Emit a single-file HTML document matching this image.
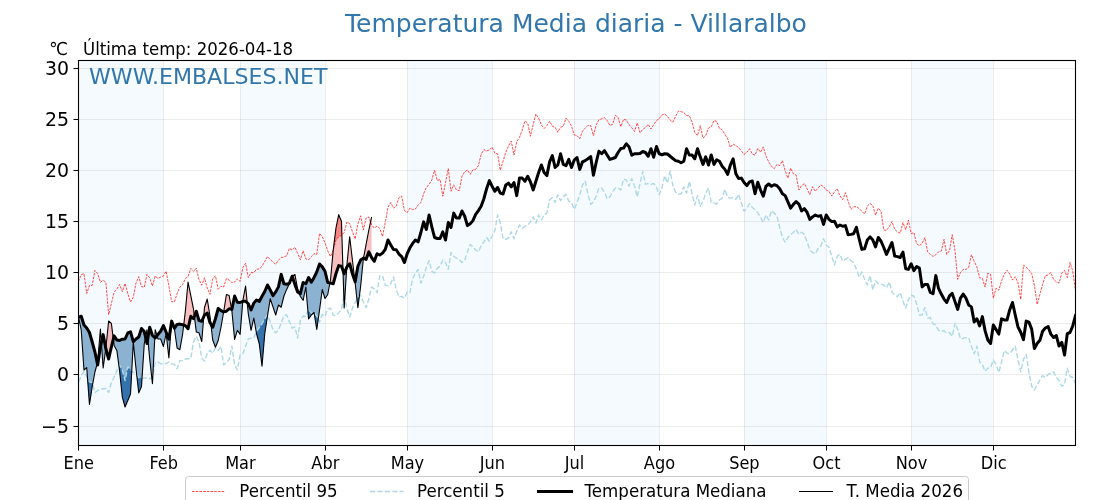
<!DOCTYPE html>
<html lang="es"><head><meta charset="utf-8"><title>Temperatura Media diaria - Villaralbo</title>
<style>
html,body{margin:0;padding:0;background:#fff;}
body{width:1120px;height:500px;overflow:hidden;}
svg{display:block;font-family:"DejaVu Sans","Liberation Sans",sans-serif;}
</style></head><body>
<svg width="1120" height="500" viewBox="0 0 1120 500">
<rect width="1120" height="500" fill="#fff"/>
<defs><clipPath id="ax"><rect x="78.50" y="60.50" width="997.00" height="385.00"/></clipPath></defs>

<g clip-path="url(#ax)">
<rect x="78.50" y="60.5" width="84.91" height="385.0" fill="#f5fafe"/>
<rect x="240.10" y="60.5" width="84.91" height="385.0" fill="#f5fafe"/>
<rect x="407.18" y="60.5" width="84.91" height="385.0" fill="#f5fafe"/>
<rect x="574.26" y="60.5" width="84.91" height="385.0" fill="#f5fafe"/>
<rect x="744.08" y="60.5" width="82.17" height="385.0" fill="#f5fafe"/>
<rect x="911.16" y="60.5" width="82.17" height="385.0" fill="#f5fafe"/>
<line x1="78.50" y1="60.5" x2="78.50" y2="445.5" stroke="#808080" stroke-opacity="0.14" stroke-width="1"/>
<line x1="163.50" y1="60.5" x2="163.50" y2="445.5" stroke="#808080" stroke-opacity="0.14" stroke-width="1"/>
<line x1="240.50" y1="60.5" x2="240.50" y2="445.5" stroke="#808080" stroke-opacity="0.14" stroke-width="1"/>
<line x1="325.50" y1="60.5" x2="325.50" y2="445.5" stroke="#808080" stroke-opacity="0.14" stroke-width="1"/>
<line x1="407.50" y1="60.5" x2="407.50" y2="445.5" stroke="#808080" stroke-opacity="0.14" stroke-width="1"/>
<line x1="492.50" y1="60.5" x2="492.50" y2="445.5" stroke="#808080" stroke-opacity="0.14" stroke-width="1"/>
<line x1="574.50" y1="60.5" x2="574.50" y2="445.5" stroke="#808080" stroke-opacity="0.14" stroke-width="1"/>
<line x1="659.50" y1="60.5" x2="659.50" y2="445.5" stroke="#808080" stroke-opacity="0.14" stroke-width="1"/>
<line x1="744.50" y1="60.5" x2="744.50" y2="445.5" stroke="#808080" stroke-opacity="0.14" stroke-width="1"/>
<line x1="826.50" y1="60.5" x2="826.50" y2="445.5" stroke="#808080" stroke-opacity="0.14" stroke-width="1"/>
<line x1="911.50" y1="60.5" x2="911.50" y2="445.5" stroke="#808080" stroke-opacity="0.14" stroke-width="1"/>
<line x1="993.50" y1="60.5" x2="993.50" y2="445.5" stroke="#808080" stroke-opacity="0.14" stroke-width="1"/>
<line x1="78.5" y1="426.50" x2="1075.5" y2="426.50" stroke="#808080" stroke-opacity="0.14" stroke-width="1"/>
<line x1="78.5" y1="374.50" x2="1075.5" y2="374.50" stroke="#808080" stroke-opacity="0.14" stroke-width="1"/>
<line x1="78.5" y1="323.50" x2="1075.5" y2="323.50" stroke="#808080" stroke-opacity="0.14" stroke-width="1"/>
<line x1="78.5" y1="272.50" x2="1075.5" y2="272.50" stroke="#808080" stroke-opacity="0.14" stroke-width="1"/>
<line x1="78.5" y1="221.50" x2="1075.5" y2="221.50" stroke="#808080" stroke-opacity="0.14" stroke-width="1"/>
<line x1="78.5" y1="170.50" x2="1075.5" y2="170.50" stroke="#808080" stroke-opacity="0.14" stroke-width="1"/>
<line x1="78.5" y1="119.50" x2="1075.5" y2="119.50" stroke="#808080" stroke-opacity="0.14" stroke-width="1"/>
<line x1="78.5" y1="68.50" x2="1075.5" y2="68.50" stroke="#808080" stroke-opacity="0.14" stroke-width="1"/>
<path d="M78.54,317.19 L81.24,330.00 L83.98,370.00 L86.72,367.70 L89.46,404.40 L92.20,386.60 L94.93,372.00 L97.32,363.30 L97.32,363.30 L94.93,352.00 L92.20,342.00 L89.46,332.50 L86.72,328.00 L83.98,325.00 L81.24,316.20 L78.54,317.19Z M101.37,342.66 L103.15,368.00 L105.81,348.58 L105.81,348.58 L103.15,334.60 L101.37,342.66Z M113.32,339.09 L114.11,345.40 L116.85,350.40 L119.59,371.00 L122.32,397.00 L125.06,407.00 L127.80,400.50 L130.54,394.00 L133.28,342.00 L136.02,368.75 L138.76,392.90 L141.50,386.60 L144.24,344.00 L145.54,337.20 L145.54,337.20 L144.24,331.50 L141.50,328.50 L138.76,337.00 L136.02,339.00 L133.28,341.60 L130.54,331.90 L127.80,333.00 L125.06,339.00 L122.32,339.20 L119.59,340.50 L116.85,340.00 L114.11,335.90 L113.32,339.09Z M147.80,338.57 L149.71,359.00 L152.45,383.75 L154.79,337.63 L154.79,337.63 L152.45,335.50 L149.71,327.20 L147.80,338.57Z M156.97,335.73 L157.93,339.00 L160.67,339.00 L163.41,346.50 L166.15,333.50 L168.89,358.00 L171.61,321.23 L171.61,321.23 L168.89,339.12 L166.15,332.25 L163.41,325.56 L160.67,331.25 L157.93,334.50 L156.97,335.73Z M172.69,323.90 L174.37,328.50 L177.10,348.00 L179.84,349.70 L182.58,334.50 L183.71,325.11 L183.71,325.11 L182.58,324.75 L179.84,324.10 L177.10,324.44 L174.37,328.31 L172.69,323.90Z M194.39,316.41 L196.28,331.90 L199.02,332.80 L201.76,341.50 L203.75,316.69 L203.75,316.69 L201.76,321.25 L199.02,320.62 L196.28,311.25 L194.39,316.41Z M210.90,324.10 L212.71,340.00 L215.45,347.30 L218.19,340.50 L220.93,327.50 L223.67,312.00 L223.69,311.88 L223.69,311.88 L223.67,311.88 L220.93,310.62 L218.19,308.50 L215.45,318.75 L212.71,327.25 L210.90,324.10Z M231.59,309.31 L231.88,311.00 L234.62,339.40 L237.36,330.30 L240.10,334.40 L242.79,301.27 L242.79,301.27 L240.10,302.50 L237.36,302.25 L234.62,296.00 L231.88,309.38 L231.59,309.31Z M247.22,302.75 L248.32,314.00 L251.06,330.30 L253.80,318.00 L256.54,333.75 L259.27,343.75 L262.01,366.25 L264.75,333.75 L267.49,316.00 L270.23,298.75 L272.97,306.90 L275.71,315.00 L278.45,305.00 L281.19,307.20 L283.93,296.00 L286.66,289.40 L289.40,283.75 L292.14,276.50 L292.21,276.45 L292.21,276.45 L292.14,276.25 L289.40,283.31 L286.66,284.25 L283.93,283.75 L281.19,274.38 L278.45,286.88 L275.71,291.88 L272.97,295.62 L270.23,290.00 L267.49,285.00 L264.75,291.50 L262.01,296.25 L259.27,301.50 L256.54,300.00 L253.80,303.12 L251.06,310.00 L248.32,303.75 L247.22,302.75Z M298.99,292.75 L300.36,296.50 L303.10,300.30 L305.84,287.00 L308.58,319.00 L311.32,315.00 L314.05,312.50 L316.79,329.50 L319.53,310.00 L322.27,289.50 L325.01,298.50 L327.75,294.50 L329.92,282.99 L329.92,282.99 L327.75,282.50 L325.01,271.25 L322.27,266.88 L319.53,264.00 L316.79,271.88 L314.05,277.50 L311.32,282.25 L308.58,277.50 L305.84,283.75 L303.10,282.50 L300.36,293.62 L298.99,292.75Z M343.00,270.51 L344.18,308.00 L346.78,267.24 L346.78,267.24 L344.18,273.75 L343.00,270.51Z M354.93,281.27 L355.14,283.00 L357.88,307.70 L360.62,286.50 L363.36,258.75 L363.47,258.17 L363.47,258.17 L363.36,258.12 L360.62,260.00 L357.88,266.25 L355.14,281.88 L354.93,281.27Z" fill="#4682b4" fill-opacity="0.6"/>
<path d="M78.50,317.00 L78.54,317.19 L78.54,317.19 L78.50,317.20Z M97.32,363.30 L97.67,362.00 L100.41,329.00 L101.37,342.66 L101.37,342.66 L100.41,347.00 L97.67,365.00 L97.32,363.30Z M105.81,348.58 L105.89,348.00 L108.63,321.00 L111.37,323.40 L113.32,339.09 L113.32,339.09 L111.37,347.00 L108.63,359.00 L105.89,349.00 L105.81,348.58Z M145.54,337.20 L146.98,329.70 L147.80,338.57 L147.80,338.57 L146.98,343.50 L145.54,337.20Z M154.79,337.63 L155.19,329.70 L156.97,335.73 L156.97,335.73 L155.19,338.00 L154.79,337.63Z M171.61,321.23 L171.63,321.00 L172.69,323.90 L172.69,323.90 L171.63,321.12 L171.61,321.23Z M183.71,325.11 L185.32,311.60 L188.06,282.00 L190.80,295.60 L193.54,309.40 L194.39,316.41 L194.39,316.41 L193.54,318.75 L190.80,316.25 L188.06,328.75 L185.32,325.62 L183.71,325.11Z M203.75,316.69 L204.49,307.50 L207.23,299.00 L209.97,316.00 L210.90,324.10 L210.90,324.10 L209.97,322.50 L207.23,313.12 L204.49,315.00 L203.75,316.69Z M223.69,311.88 L226.41,294.50 L229.15,295.50 L231.59,309.31 L231.59,309.31 L229.15,308.75 L226.41,311.25 L223.69,311.88Z M242.79,301.27 L242.84,300.60 L245.58,286.00 L247.22,302.75 L247.22,302.75 L245.58,301.25 L242.84,301.25 L242.79,301.27Z M292.21,276.45 L294.88,274.40 L297.62,289.00 L298.99,292.75 L298.99,292.75 L297.62,291.88 L294.88,284.38 L292.21,276.45Z M329.92,282.99 L330.49,280.00 L333.23,250.00 L335.97,228.00 L338.71,214.60 L341.45,221.25 L343.00,270.51 L343.00,270.51 L341.45,266.25 L338.71,265.62 L335.97,273.75 L333.23,283.75 L330.49,283.12 L329.92,282.99Z M346.78,267.24 L346.92,265.00 L349.66,236.80 L352.40,260.00 L354.93,281.27 L354.93,281.27 L352.40,273.75 L349.66,263.75 L346.92,266.88 L346.78,267.24Z M363.47,258.17 L366.10,244.40 L368.84,230.00 L371.57,217.00 L371.57,257.50 L368.84,251.88 L366.10,259.38 L363.47,258.17Z" fill="#f08080" fill-opacity="0.5"/>
<path d="M87.51,378.33 L89.46,404.40 L92.20,386.60 L92.65,384.17 L92.65,384.17 L92.20,382.50 L89.46,381.88 L87.51,378.33Z M118.96,366.29 L119.59,371.00 L122.32,397.00 L125.06,407.00 L127.80,400.50 L130.54,394.00 L131.76,370.77 L131.76,370.77 L130.54,369.38 L127.80,366.88 L125.06,380.62 L122.32,370.00 L119.59,365.00 L118.96,366.29Z M136.63,374.16 L138.76,392.90 L141.50,386.60 L142.04,378.12 L142.04,378.12 L141.50,378.12 L138.76,377.75 L136.63,374.16Z M151.82,377.98 L152.45,383.75 L152.88,375.39 L152.88,375.39 L152.45,377.75 L151.82,377.98Z M256.23,332.01 L256.54,333.75 L259.27,343.75 L262.01,366.25 L264.75,333.75 L267.49,316.00 L267.61,315.28 L267.61,315.28 L267.49,315.00 L264.75,318.75 L262.01,323.75 L259.27,327.50 L256.54,331.25 L256.23,332.01Z M307.88,310.80 L308.58,319.00 L311.32,315.00 L314.05,312.50 L316.79,329.50 L318.22,319.32 L318.22,319.32 L316.79,316.38 L314.05,312.00 L311.32,313.25 L308.58,308.88 L307.88,310.80Z M343.82,296.49 L344.18,308.00 L344.84,297.77 L344.84,297.77 L344.18,294.50 L343.82,296.49Z M356.91,298.98 L357.88,307.70 L359.40,295.96 L359.40,295.96 L357.88,297.00 L356.91,298.98Z" fill="#2f6fab" fill-opacity="0.95"/>
<path d="M333.23,250.00 L335.97,228.00 L338.71,214.60 L341.45,221.25 L341.88,235.02 L341.88,235.02 L341.45,235.50 L338.71,236.80 L335.97,240.00 L333.23,250.00Z M370.53,221.95 L371.57,217.00 L371.57,225.00 L370.53,221.95Z" fill="#ff0000" fill-opacity="0.3"/>
<path d="M78.50,281.62 L81.24,274.75 L83.98,273.50 L86.72,293.50 L89.46,285.38 L92.20,285.38 L94.93,270.38 L97.67,273.50 L100.41,282.25 L103.15,280.38 L105.89,282.25 L108.63,314.75 L111.37,303.50 L114.11,292.25 L116.85,289.12 L119.59,284.50 L122.32,291.62 L125.06,283.50 L127.80,293.50 L130.54,302.00 L133.28,297.25 L136.02,282.88 L138.76,276.62 L141.50,286.62 L144.24,287.25 L146.98,274.50 L149.71,277.88 L152.45,286.00 L155.19,276.00 L157.93,278.50 L160.67,277.00 L163.41,276.00 L166.15,271.25 L168.89,286.00 L171.63,301.62 L174.37,302.00 L177.10,293.50 L179.84,287.25 L182.58,284.75 L185.32,278.50 L188.06,276.62 L190.80,268.38 L193.54,271.31 L196.28,268.19 L199.02,279.62 L201.76,285.25 L204.49,277.75 L207.23,288.06 L209.97,294.38 L212.71,278.88 L215.45,275.75 L218.19,289.25 L220.93,286.38 L223.67,287.00 L226.41,278.50 L229.15,280.12 L231.88,282.62 L234.62,282.00 L237.36,278.88 L240.10,281.38 L242.84,267.62 L245.58,263.25 L248.32,277.62 L251.06,272.62 L253.80,272.62 L256.54,269.25 L259.27,268.88 L262.01,266.38 L264.75,261.38 L267.49,256.62 L270.23,259.50 L272.97,262.00 L275.71,264.25 L278.45,260.12 L281.19,257.62 L283.93,257.00 L286.66,255.75 L289.40,248.25 L292.14,250.12 L294.88,247.25 L297.62,253.25 L300.36,259.75 L303.10,250.75 L305.84,258.88 L308.58,259.75 L311.32,256.75 L314.05,253.69 L316.79,254.50 L319.53,233.35 L322.27,236.75 L325.01,242.81 L327.75,250.88 L330.49,256.50 L333.23,250.00 L335.97,240.00 L338.71,236.80 L341.45,235.50 L344.18,232.50 L346.92,222.00 L349.66,223.50 L352.40,231.50 L355.14,239.00 L357.88,224.00 L360.62,215.80 L363.36,230.00 L366.10,218.00 L368.84,217.00 L371.57,225.00 L374.31,228.00 L377.05,226.00 L379.79,228.50 L382.53,236.50 L385.27,222.50 L388.01,207.25 L390.75,202.50 L393.49,208.12 L396.23,206.25 L398.96,197.50 L401.70,196.25 L404.44,210.62 L407.18,212.50 L409.92,208.12 L412.66,209.62 L415.40,209.00 L418.14,205.00 L420.88,202.50 L423.62,193.75 L426.35,187.50 L429.09,184.38 L431.83,180.00 L434.57,170.25 L437.31,180.62 L440.05,179.38 L442.79,196.25 L445.53,182.50 L448.27,168.50 L451.01,191.25 L453.74,184.75 L456.48,190.00 L459.22,190.62 L461.96,176.25 L464.70,171.88 L467.44,170.00 L470.18,174.38 L472.92,169.75 L475.66,169.38 L478.40,165.62 L481.13,154.38 L483.87,149.62 L486.61,151.00 L489.35,150.00 L492.09,147.25 L494.83,153.12 L497.57,153.75 L500.31,170.25 L503.05,161.25 L505.79,152.19 L508.52,145.94 L511.26,141.12 L514.00,155.00 L516.74,141.69 L519.48,137.50 L522.22,130.00 L524.96,121.00 L527.70,123.12 L530.44,136.25 L533.18,124.38 L535.91,114.00 L538.65,118.12 L541.39,125.00 L544.13,128.50 L546.87,125.62 L549.61,121.25 L552.35,126.25 L555.09,127.25 L557.83,132.25 L560.57,127.25 L563.30,126.25 L566.04,118.12 L568.78,121.25 L571.52,126.25 L574.26,135.00 L577.00,135.62 L579.74,138.75 L582.48,131.25 L585.22,128.12 L587.96,125.38 L590.70,125.62 L593.43,135.62 L596.17,125.00 L598.91,119.75 L601.65,118.75 L604.39,117.50 L607.13,120.62 L609.87,125.38 L612.61,124.38 L615.35,115.25 L618.09,117.50 L620.82,126.69 L623.56,119.38 L626.30,120.00 L629.04,124.56 L631.78,127.75 L634.52,131.50 L637.26,122.94 L640.00,132.81 L642.74,129.38 L645.48,127.50 L648.21,124.38 L650.95,129.00 L653.69,124.75 L656.43,120.62 L659.17,118.75 L661.91,115.00 L664.65,114.00 L667.39,116.25 L670.13,120.00 L672.87,122.25 L675.60,116.25 L678.34,111.25 L681.08,111.62 L683.82,112.50 L686.56,115.62 L689.30,115.62 L692.04,121.88 L694.78,132.50 L697.52,135.62 L700.26,125.62 L702.99,138.12 L705.73,135.62 L708.47,128.12 L711.21,126.88 L713.95,120.62 L716.69,121.25 L719.43,128.50 L722.17,129.75 L724.91,134.38 L727.65,138.75 L730.38,147.50 L733.12,144.12 L735.86,145.62 L738.60,147.50 L741.34,150.94 L744.08,154.38 L746.82,152.38 L749.56,148.75 L752.30,154.06 L755.04,155.12 L757.77,148.44 L760.51,152.19 L763.25,146.88 L765.99,156.25 L768.73,161.88 L771.47,166.25 L774.21,168.75 L776.95,164.38 L779.69,165.62 L782.43,160.62 L785.16,170.62 L787.90,178.12 L790.64,168.12 L793.38,173.75 L796.12,175.00 L798.86,190.00 L801.60,185.62 L804.34,183.50 L807.08,188.75 L809.82,194.69 L812.55,186.69 L815.29,191.25 L818.03,188.12 L820.77,185.00 L823.51,186.56 L826.25,190.12 L828.99,191.38 L831.73,196.12 L834.47,191.88 L837.21,188.75 L839.95,195.94 L842.68,199.69 L845.42,192.62 L848.16,201.25 L850.90,209.38 L853.64,206.88 L856.38,206.62 L859.12,208.50 L861.86,211.25 L864.60,214.00 L867.34,206.00 L870.07,203.50 L872.81,205.62 L875.55,215.25 L878.29,208.12 L881.03,211.25 L883.77,230.00 L886.51,230.25 L889.25,226.88 L891.99,221.50 L894.73,229.38 L897.46,231.88 L900.20,233.12 L902.94,222.50 L905.68,229.75 L908.42,220.12 L911.16,233.62 L913.90,232.62 L916.64,243.75 L919.38,245.62 L922.12,243.50 L924.85,237.50 L927.59,251.88 L930.33,254.38 L933.07,256.50 L935.81,254.75 L938.55,251.88 L941.29,251.00 L944.03,239.38 L946.77,254.38 L949.51,250.62 L952.24,234.75 L954.98,250.62 L957.72,279.38 L960.46,272.50 L963.20,269.38 L965.94,269.38 L968.68,267.50 L971.42,254.75 L974.16,261.25 L976.90,266.88 L979.63,277.81 L982.37,278.50 L985.11,287.12 L987.85,273.12 L990.59,274.38 L993.33,298.12 L996.07,288.12 L998.81,290.25 L1001.55,280.94 L1004.29,274.06 L1007.02,270.25 L1009.76,274.06 L1012.50,280.12 L1015.24,276.75 L1017.98,282.81 L1020.72,299.38 L1023.46,265.12 L1026.20,267.06 L1028.94,270.00 L1031.68,273.44 L1034.41,285.31 L1037.15,304.38 L1039.89,294.38 L1042.63,284.38 L1045.37,275.62 L1048.11,275.00 L1050.85,272.50 L1053.59,279.38 L1056.33,281.88 L1059.07,283.12 L1061.80,273.12 L1064.54,270.38 L1067.28,277.50 L1070.02,262.50 L1072.76,271.25 L1075.50,290.62" fill="none" stroke="#ff0000" stroke-width="0.7" stroke-dasharray="2.6 1.1" stroke-linejoin="round"/>
<path d="M78.50,381.88 L81.24,376.25 L83.98,371.25 L86.72,376.88 L89.46,381.88 L92.20,382.50 L94.93,392.50 L97.67,390.62 L100.41,389.00 L103.15,388.75 L105.89,388.50 L108.63,392.50 L111.37,382.50 L114.11,377.50 L116.85,370.62 L119.59,365.00 L122.32,370.00 L125.06,380.62 L127.80,366.88 L130.54,369.38 L133.28,372.50 L136.02,373.12 L138.76,377.75 L141.50,378.12 L144.24,378.12 L146.98,377.75 L149.71,378.75 L152.45,377.75 L155.19,362.50 L157.93,361.88 L160.67,363.75 L163.41,364.00 L166.15,363.50 L168.89,361.88 L171.63,363.75 L174.37,364.38 L177.10,368.75 L179.84,360.62 L182.58,360.62 L185.32,359.00 L188.06,358.75 L190.80,358.44 L193.54,341.88 L196.28,336.25 L199.02,341.88 L201.76,358.12 L204.49,361.12 L207.23,353.44 L209.97,350.31 L212.71,353.12 L215.45,348.12 L218.19,350.62 L220.93,346.25 L223.67,365.00 L226.41,362.50 L229.15,359.38 L231.88,346.00 L234.62,365.00 L237.36,370.00 L240.10,355.00 L242.84,353.75 L245.58,346.25 L248.32,338.75 L251.06,338.12 L253.80,338.12 L256.54,331.25 L259.27,327.50 L262.01,323.75 L264.75,318.75 L267.49,315.00 L270.23,321.62 L272.97,329.75 L275.71,332.88 L278.45,330.06 L281.19,323.19 L283.93,315.69 L286.66,314.94 L289.40,321.62 L292.14,328.19 L294.88,326.94 L297.62,338.12 L300.36,320.69 L303.10,316.00 L305.84,316.38 L308.58,308.88 L311.32,313.25 L314.05,312.00 L316.79,316.38 L319.53,322.00 L322.27,314.50 L325.01,316.38 L327.75,308.88 L330.49,308.25 L333.23,315.12 L335.97,315.75 L338.71,312.62 L341.45,309.50 L344.18,294.50 L346.92,308.25 L349.66,317.00 L352.40,308.25 L355.14,302.62 L357.88,297.00 L360.62,295.12 L363.36,302.00 L366.10,307.62 L368.84,298.88 L371.57,287.00 L374.31,288.88 L377.05,292.62 L379.79,275.75 L382.53,275.75 L385.27,285.12 L388.01,285.75 L390.75,283.81 L393.49,276.94 L396.23,289.50 L398.96,297.00 L401.70,296.38 L404.44,298.25 L407.18,292.00 L409.92,292.62 L412.66,278.75 L415.40,273.12 L418.14,269.38 L420.88,283.12 L423.62,276.25 L426.35,267.50 L429.09,260.62 L431.83,271.25 L434.57,273.12 L437.31,268.12 L440.05,266.25 L442.79,260.00 L445.53,262.50 L448.27,269.38 L451.01,252.50 L453.74,256.25 L456.48,258.12 L459.22,259.38 L461.96,262.50 L464.70,260.62 L467.44,251.88 L470.18,244.38 L472.92,246.88 L475.66,250.00 L478.40,251.88 L481.13,245.62 L483.87,241.88 L486.61,237.50 L489.35,241.25 L492.09,236.25 L494.83,230.62 L497.57,215.00 L500.31,223.12 L503.05,238.75 L505.79,239.38 L508.52,238.12 L511.26,231.88 L514.00,238.75 L516.74,231.25 L519.48,225.00 L522.22,228.44 L524.96,226.25 L527.70,225.00 L530.44,221.88 L533.18,216.88 L535.91,223.12 L538.65,215.00 L541.39,220.00 L544.13,215.00 L546.87,213.12 L549.61,200.00 L552.35,197.50 L555.09,202.50 L557.83,194.75 L560.57,200.62 L563.30,196.88 L566.04,194.38 L568.78,201.25 L571.52,202.50 L574.26,209.38 L577.00,202.50 L579.74,195.00 L582.48,185.00 L585.22,181.25 L587.96,194.38 L590.70,204.38 L593.43,201.88 L596.17,196.25 L598.91,188.12 L601.65,188.12 L604.39,191.88 L607.13,198.75 L609.87,196.88 L612.61,191.88 L615.35,188.12 L618.09,187.75 L620.82,190.00 L623.56,179.00 L626.30,180.00 L629.04,186.25 L631.78,178.75 L634.52,185.94 L637.26,196.88 L640.00,183.75 L642.74,171.38 L645.48,184.38 L648.21,183.44 L650.95,184.38 L653.69,183.50 L656.43,186.88 L659.17,194.75 L661.91,188.12 L664.65,175.62 L667.39,183.12 L670.13,171.00 L672.87,185.62 L675.60,192.25 L678.34,194.38 L681.08,193.75 L683.82,186.88 L686.56,193.12 L689.30,181.50 L692.04,193.75 L694.78,205.00 L697.52,195.62 L700.26,206.25 L702.99,201.25 L705.73,193.12 L708.47,188.12 L711.21,202.50 L713.95,203.12 L716.69,204.00 L719.43,200.00 L722.17,198.12 L724.91,189.38 L727.65,197.50 L730.38,198.12 L733.12,197.50 L735.86,199.38 L738.60,194.38 L741.34,203.12 L744.08,211.25 L746.82,208.12 L749.56,203.75 L752.30,207.50 L755.04,209.69 L757.77,212.81 L760.51,217.19 L763.25,222.25 L765.99,215.00 L768.73,220.00 L771.47,210.62 L774.21,213.12 L776.95,215.62 L779.69,227.50 L782.43,237.50 L785.16,242.25 L787.90,237.50 L790.64,234.38 L793.38,232.50 L796.12,229.38 L798.86,234.38 L801.60,232.25 L804.34,234.38 L807.08,241.88 L809.82,250.00 L812.55,252.50 L815.29,253.75 L818.03,248.75 L820.77,246.25 L823.51,238.75 L826.25,245.00 L828.99,247.19 L831.73,256.25 L834.47,265.00 L837.21,256.25 L839.95,254.38 L842.68,261.25 L845.42,259.38 L848.16,257.50 L850.90,260.62 L853.64,262.50 L856.38,269.38 L859.12,276.88 L861.86,271.88 L864.60,279.38 L867.34,285.00 L870.07,275.62 L872.81,290.00 L875.55,280.62 L878.29,283.75 L881.03,284.38 L883.77,285.00 L886.51,287.81 L889.25,281.88 L891.99,291.88 L894.73,295.31 L897.46,296.62 L900.20,292.62 L902.94,301.25 L905.68,308.12 L908.42,299.38 L911.16,295.00 L913.90,296.25 L916.64,303.75 L919.38,315.00 L922.12,315.00 L924.85,307.50 L927.59,318.12 L930.33,317.50 L933.07,323.75 L935.81,325.00 L938.55,330.62 L941.29,330.62 L944.03,331.00 L946.77,333.12 L949.51,332.50 L952.24,336.25 L954.98,323.12 L957.72,329.38 L960.46,338.75 L963.20,338.44 L965.94,337.62 L968.68,337.94 L971.42,346.56 L974.16,353.75 L976.90,346.25 L979.63,361.88 L982.37,364.38 L985.11,371.25 L987.85,368.12 L990.59,367.75 L993.33,360.00 L996.07,364.38 L998.81,372.50 L1001.55,361.88 L1004.29,350.62 L1007.02,353.12 L1009.76,353.75 L1012.50,350.00 L1015.24,346.25 L1017.98,360.00 L1020.72,371.88 L1023.46,359.38 L1026.20,354.38 L1028.94,372.50 L1031.68,386.25 L1034.41,390.00 L1037.15,385.00 L1039.89,380.00 L1042.63,375.62 L1045.37,377.50 L1048.11,374.38 L1050.85,373.12 L1053.59,371.88 L1056.33,377.50 L1059.07,380.62 L1061.80,386.25 L1064.54,384.38 L1067.28,368.12 L1070.02,376.25 L1072.76,377.50 L1075.50,383.12" fill="none" stroke="#add8e6" stroke-width="1.4" stroke-dasharray="5.2 2.2" stroke-linejoin="round"/>
<path d="M78.50,317.20 L81.24,316.20 L83.98,325.00 L86.72,328.00 L89.46,332.50 L92.20,342.00 L94.93,352.00 L97.67,365.00 L100.41,347.00 L103.15,334.60 L105.89,349.00 L108.63,359.00 L111.37,347.00 L114.11,335.90 L116.85,340.00 L119.59,340.50 L122.32,339.20 L125.06,339.00 L127.80,333.00 L130.54,331.90 L133.28,341.60 L136.02,339.00 L138.76,337.00 L141.50,328.50 L144.24,331.50 L146.98,343.50 L149.71,327.20 L152.45,335.50 L155.19,338.00 L157.93,334.50 L160.67,331.25 L163.41,325.56 L166.15,332.25 L168.89,339.12 L171.63,321.12 L174.37,328.31 L177.10,324.44 L179.84,324.10 L182.58,324.75 L185.32,325.62 L188.06,328.75 L190.80,316.25 L193.54,318.75 L196.28,311.25 L199.02,320.62 L201.76,321.25 L204.49,315.00 L207.23,313.12 L209.97,322.50 L212.71,327.25 L215.45,318.75 L218.19,308.50 L220.93,310.62 L223.67,311.88 L226.41,311.25 L229.15,308.75 L231.88,309.38 L234.62,296.00 L237.36,302.25 L240.10,302.50 L242.84,301.25 L245.58,301.25 L248.32,303.75 L251.06,310.00 L253.80,303.12 L256.54,300.00 L259.27,301.50 L262.01,296.25 L264.75,291.50 L267.49,285.00 L270.23,290.00 L272.97,295.62 L275.71,291.88 L278.45,286.88 L281.19,274.38 L283.93,283.75 L286.66,284.25 L289.40,283.31 L292.14,276.25 L294.88,284.38 L297.62,291.88 L300.36,293.62 L303.10,282.50 L305.84,283.75 L308.58,277.50 L311.32,282.25 L314.05,277.50 L316.79,271.88 L319.53,264.00 L322.27,266.88 L325.01,271.25 L327.75,282.50 L330.49,283.12 L333.23,283.75 L335.97,273.75 L338.71,265.62 L341.45,266.25 L344.18,273.75 L346.92,266.88 L349.66,263.75 L352.40,273.75 L355.14,281.88 L357.88,266.25 L360.62,260.00 L363.36,258.12 L366.10,259.38 L368.84,251.88 L371.57,257.50 L374.31,261.25 L377.05,253.75 L379.79,255.00 L382.53,253.12 L385.27,249.38 L388.01,240.00 L390.75,245.00 L393.49,249.56 L396.23,249.75 L398.96,254.06 L401.70,256.56 L404.44,262.50 L407.18,253.75 L409.92,247.81 L412.66,243.44 L415.40,240.00 L418.14,241.88 L420.88,232.50 L423.62,221.88 L426.35,229.38 L429.09,215.00 L431.83,226.88 L434.57,237.50 L437.31,238.50 L440.05,238.50 L442.79,231.88 L445.53,240.00 L448.27,222.50 L451.01,227.50 L453.74,213.12 L456.48,218.12 L459.22,218.12 L461.96,211.00 L464.70,216.25 L467.44,225.62 L470.18,223.75 L472.92,220.62 L475.66,214.38 L478.40,210.62 L481.13,206.25 L483.87,198.75 L486.61,188.75 L489.35,180.62 L492.09,186.25 L494.83,191.25 L497.57,187.50 L500.31,193.12 L503.05,194.00 L505.79,185.00 L508.52,183.12 L511.26,186.88 L514.00,182.50 L516.74,195.62 L519.48,178.12 L522.22,178.12 L524.96,181.25 L527.70,176.25 L530.44,181.88 L533.18,190.00 L535.91,181.25 L538.65,172.50 L541.39,165.00 L544.13,172.50 L546.87,175.62 L549.61,161.88 L552.35,155.62 L555.09,167.50 L557.83,165.00 L560.57,153.75 L563.30,164.38 L566.04,165.62 L568.78,159.38 L571.52,167.50 L574.26,160.00 L577.00,157.50 L579.74,169.38 L582.48,161.88 L585.22,160.62 L587.96,158.75 L590.70,156.56 L593.43,175.31 L596.17,162.50 L598.91,151.25 L601.65,153.75 L604.39,150.62 L607.13,155.00 L609.87,159.38 L612.61,158.50 L615.35,157.50 L618.09,152.50 L620.82,148.50 L623.56,148.12 L626.30,143.75 L629.04,146.88 L631.78,155.25 L634.52,153.75 L637.26,153.75 L640.00,153.50 L642.74,151.50 L645.48,152.50 L648.21,156.25 L650.95,148.75 L653.69,157.25 L656.43,146.50 L659.17,153.75 L661.91,154.75 L664.65,153.75 L667.39,154.00 L670.13,156.25 L672.87,158.50 L675.60,160.62 L678.34,161.25 L681.08,162.75 L683.82,161.25 L686.56,148.75 L689.30,155.00 L692.04,155.00 L694.78,158.75 L697.52,148.75 L700.26,156.88 L702.99,164.38 L705.73,156.88 L708.47,165.00 L711.21,155.00 L713.95,164.38 L716.69,159.75 L719.43,161.25 L722.17,166.25 L724.91,169.38 L727.65,174.38 L730.38,165.00 L733.12,158.75 L735.86,173.75 L738.60,178.50 L741.34,178.12 L744.08,182.50 L746.82,185.62 L749.56,181.88 L752.30,181.00 L755.04,193.75 L757.77,182.25 L760.51,190.00 L763.25,196.25 L765.99,186.25 L768.73,184.00 L771.47,186.25 L774.21,184.75 L776.95,185.62 L779.69,188.75 L782.43,193.75 L785.16,195.62 L787.90,201.88 L790.64,208.12 L793.38,204.38 L796.12,201.56 L798.86,204.06 L801.60,210.94 L804.34,208.62 L807.08,212.25 L809.82,219.38 L812.55,216.88 L815.29,215.00 L818.03,216.25 L820.77,215.62 L823.51,224.38 L826.25,215.00 L828.99,219.38 L831.73,221.62 L834.47,221.25 L837.21,226.88 L839.95,225.00 L842.68,226.25 L845.42,225.62 L848.16,234.75 L850.90,234.38 L853.64,233.75 L856.38,227.25 L859.12,238.75 L861.86,249.38 L864.60,248.75 L867.34,240.00 L870.07,236.88 L872.81,240.00 L875.55,246.88 L878.29,237.50 L881.03,241.25 L883.77,247.50 L886.51,254.38 L889.25,248.44 L891.99,242.50 L894.73,256.12 L897.46,256.62 L900.20,257.50 L902.94,252.06 L905.68,268.75 L908.42,269.38 L911.16,263.75 L913.90,270.62 L916.64,266.50 L919.38,268.12 L922.12,286.88 L924.85,284.38 L927.59,284.38 L930.33,292.50 L933.07,293.75 L935.81,275.62 L938.55,288.44 L941.29,294.06 L944.03,299.06 L946.77,302.50 L949.51,295.94 L952.24,293.44 L954.98,301.62 L957.72,309.38 L960.46,298.12 L963.20,294.06 L965.94,298.12 L968.68,305.00 L971.42,306.88 L974.16,321.94 L976.90,318.77 L979.63,325.88 L982.37,316.62 L985.11,330.88 L987.85,340.00 L990.59,343.50 L993.33,324.94 L996.07,329.44 L998.81,334.09 L1001.55,318.88 L1004.29,319.90 L1007.02,320.00 L1009.76,309.69 L1012.50,302.50 L1015.24,315.00 L1017.98,326.94 L1020.72,332.25 L1023.46,339.67 L1026.20,321.08 L1028.94,322.17 L1031.68,329.12 L1034.41,348.50 L1037.15,343.50 L1039.89,340.33 L1042.63,331.25 L1045.37,328.04 L1048.11,326.53 L1050.85,334.12 L1053.59,337.44 L1056.33,335.56 L1059.07,346.00 L1061.80,342.38 L1064.54,355.00 L1067.28,333.62 L1070.02,332.50 L1072.76,326.00 L1075.50,315.50" fill="none" stroke="#000" stroke-width="3.0" stroke-linejoin="round" stroke-linecap="square"/>
<path d="M78.50,317.00 L81.24,330.00 L83.98,370.00 L86.72,367.70 L89.46,404.40 L92.20,386.60 L94.93,372.00 L97.67,362.00 L100.41,329.00 L103.15,368.00 L105.89,348.00 L108.63,321.00 L111.37,323.40 L114.11,345.40 L116.85,350.40 L119.59,371.00 L122.32,397.00 L125.06,407.00 L127.80,400.50 L130.54,394.00 L133.28,342.00 L136.02,368.75 L138.76,392.90 L141.50,386.60 L144.24,344.00 L146.98,329.70 L149.71,359.00 L152.45,383.75 L155.19,329.70 L157.93,339.00 L160.67,339.00 L163.41,346.50 L166.15,333.50 L168.89,358.00 L171.63,321.00 L174.37,328.50 L177.10,348.00 L179.84,349.70 L182.58,334.50 L185.32,311.60 L188.06,282.00 L190.80,295.60 L193.54,309.40 L196.28,331.90 L199.02,332.80 L201.76,341.50 L204.49,307.50 L207.23,299.00 L209.97,316.00 L212.71,340.00 L215.45,347.30 L218.19,340.50 L220.93,327.50 L223.67,312.00 L226.41,294.50 L229.15,295.50 L231.88,311.00 L234.62,339.40 L237.36,330.30 L240.10,334.40 L242.84,300.60 L245.58,286.00 L248.32,314.00 L251.06,330.30 L253.80,318.00 L256.54,333.75 L259.27,343.75 L262.01,366.25 L264.75,333.75 L267.49,316.00 L270.23,298.75 L272.97,306.90 L275.71,315.00 L278.45,305.00 L281.19,307.20 L283.93,296.00 L286.66,289.40 L289.40,283.75 L292.14,276.50 L294.88,274.40 L297.62,289.00 L300.36,296.50 L303.10,300.30 L305.84,287.00 L308.58,319.00 L311.32,315.00 L314.05,312.50 L316.79,329.50 L319.53,310.00 L322.27,289.50 L325.01,298.50 L327.75,294.50 L330.49,280.00 L333.23,250.00 L335.97,228.00 L338.71,214.60 L341.45,221.25 L344.18,308.00 L346.92,265.00 L349.66,236.80 L352.40,260.00 L355.14,283.00 L357.88,307.70 L360.62,286.50 L363.36,258.75 L366.10,244.40 L368.84,230.00 L371.57,217.00" fill="none" stroke="#000" stroke-width="1.1" stroke-linejoin="round"/>
</g>
<rect x="78.5" y="60.5" width="997.0" height="385.0" fill="none" stroke="#000" stroke-width="1.1"/>
<line x1="78.50" y1="445.5" x2="78.50" y2="450.5" stroke="#000" stroke-width="1"/>
<text transform="translate(78.80,469.30) scale(0.97,1.07)" font-size="16.67" text-anchor="middle">Ene</text>
<line x1="163.50" y1="445.5" x2="163.50" y2="450.5" stroke="#000" stroke-width="1"/>
<text transform="translate(163.71,469.30) scale(0.97,1.07)" font-size="16.67" text-anchor="middle">Feb</text>
<line x1="240.50" y1="445.5" x2="240.50" y2="450.5" stroke="#000" stroke-width="1"/>
<text transform="translate(240.40,469.30) scale(0.97,1.07)" font-size="16.67" text-anchor="middle">Mar</text>
<line x1="325.50" y1="445.5" x2="325.50" y2="450.5" stroke="#000" stroke-width="1"/>
<text transform="translate(325.31,469.30) scale(0.97,1.07)" font-size="16.67" text-anchor="middle">Abr</text>
<line x1="407.50" y1="445.5" x2="407.50" y2="450.5" stroke="#000" stroke-width="1"/>
<text transform="translate(407.48,469.30) scale(0.97,1.07)" font-size="16.67" text-anchor="middle">May</text>
<line x1="492.50" y1="445.5" x2="492.50" y2="450.5" stroke="#000" stroke-width="1"/>
<text transform="translate(492.39,469.30) scale(0.97,1.07)" font-size="16.67" text-anchor="middle">Jun</text>
<line x1="574.50" y1="445.5" x2="574.50" y2="450.5" stroke="#000" stroke-width="1"/>
<text transform="translate(574.56,469.30) scale(0.97,1.07)" font-size="16.67" text-anchor="middle">Jul</text>
<line x1="659.50" y1="445.5" x2="659.50" y2="450.5" stroke="#000" stroke-width="1"/>
<text transform="translate(659.47,469.30) scale(0.97,1.07)" font-size="16.67" text-anchor="middle">Ago</text>
<line x1="744.50" y1="445.5" x2="744.50" y2="450.5" stroke="#000" stroke-width="1"/>
<text transform="translate(744.38,469.30) scale(0.97,1.07)" font-size="16.67" text-anchor="middle">Sep</text>
<line x1="826.50" y1="445.5" x2="826.50" y2="450.5" stroke="#000" stroke-width="1"/>
<text transform="translate(826.55,469.30) scale(0.97,1.07)" font-size="16.67" text-anchor="middle">Oct</text>
<line x1="911.50" y1="445.5" x2="911.50" y2="450.5" stroke="#000" stroke-width="1"/>
<text transform="translate(911.46,469.30) scale(0.97,1.07)" font-size="16.67" text-anchor="middle">Nov</text>
<line x1="993.50" y1="445.5" x2="993.50" y2="450.5" stroke="#000" stroke-width="1"/>
<text transform="translate(993.63,469.30) scale(0.97,1.07)" font-size="16.67" text-anchor="middle">Dic</text>
<line x1="73.5" y1="426.50" x2="78.5" y2="426.50" stroke="#000" stroke-width="1"/>
<text transform="translate(69.00,432.80) scale(0.975,0.965)" font-size="19.44" text-anchor="end">−5</text>
<line x1="73.5" y1="374.50" x2="78.5" y2="374.50" stroke="#000" stroke-width="1"/>
<text transform="translate(69.00,380.80) scale(0.975,0.965)" font-size="19.44" text-anchor="end">0</text>
<line x1="73.5" y1="323.50" x2="78.5" y2="323.50" stroke="#000" stroke-width="1"/>
<text transform="translate(69.00,329.80) scale(0.975,0.965)" font-size="19.44" text-anchor="end">5</text>
<line x1="73.5" y1="272.50" x2="78.5" y2="272.50" stroke="#000" stroke-width="1"/>
<text transform="translate(69.00,278.80) scale(0.975,0.965)" font-size="19.44" text-anchor="end">10</text>
<line x1="73.5" y1="221.50" x2="78.5" y2="221.50" stroke="#000" stroke-width="1"/>
<text transform="translate(69.00,227.80) scale(0.975,0.965)" font-size="19.44" text-anchor="end">15</text>
<line x1="73.5" y1="170.50" x2="78.5" y2="170.50" stroke="#000" stroke-width="1"/>
<text transform="translate(69.00,176.80) scale(0.975,0.965)" font-size="19.44" text-anchor="end">20</text>
<line x1="73.5" y1="119.50" x2="78.5" y2="119.50" stroke="#000" stroke-width="1"/>
<text transform="translate(69.00,125.80) scale(0.975,0.965)" font-size="19.44" text-anchor="end">25</text>
<line x1="73.5" y1="68.50" x2="78.5" y2="68.50" stroke="#000" stroke-width="1"/>
<text transform="translate(69.00,74.80) scale(0.975,0.965)" font-size="19.44" text-anchor="end">30</text>
<text transform="translate(576.00,32.00) scale(1.0,1.0)" font-size="25" text-anchor="middle" fill="#3277ac">Temperatura Media diaria - Villaralbo</text>
<text transform="translate(49.30,54.60) scale(1.0,1.07)" font-size="16.67" text-anchor="start">℃</text>
<text transform="translate(83.00,54.60) scale(0.995,1.07)" font-size="16.67" text-anchor="start">Última temp: 2026-04-18</text>
<text transform="translate(89.00,84.20) scale(0.994,0.99)" font-size="22.22" text-anchor="start" fill="#3277ac">WWW.EMBALSES.NET</text>
<rect x="185.5" y="476.5" width="783" height="40" rx="3" ry="3" fill="#fff" fill-opacity="0.8" stroke="#cccccc" stroke-width="1"/>
<line x1="192" y1="491.5" x2="225" y2="491.5" stroke="#ff0000" stroke-width="0.7" stroke-dasharray="2.6 1.1"/>
<text transform="translate(239.30,497.00) scale(1.0,1.07)" font-size="16.67" text-anchor="start">Percentil 95</text>
<line x1="370" y1="491.5" x2="403.5" y2="491.5" stroke="#add8e6" stroke-width="1.4" stroke-dasharray="5.2 2.2"/>
<text transform="translate(417.00,497.00) scale(1.0,1.07)" font-size="16.67" text-anchor="start">Percentil 5</text>
<line x1="538.5" y1="491.5" x2="571.5" y2="491.5" stroke="#000" stroke-width="3" stroke-linecap="square"/>
<text transform="translate(584.50,497.00) scale(1.0,1.07)" font-size="16.67" text-anchor="start">Temperatura Mediana</text>
<line x1="799" y1="491.5" x2="833" y2="491.5" stroke="#000" stroke-width="1.1"/>
<text transform="translate(846.50,497.00) scale(1.0,1.07)" font-size="16.67" text-anchor="start">T. Media 2026</text>
</svg></body></html>
